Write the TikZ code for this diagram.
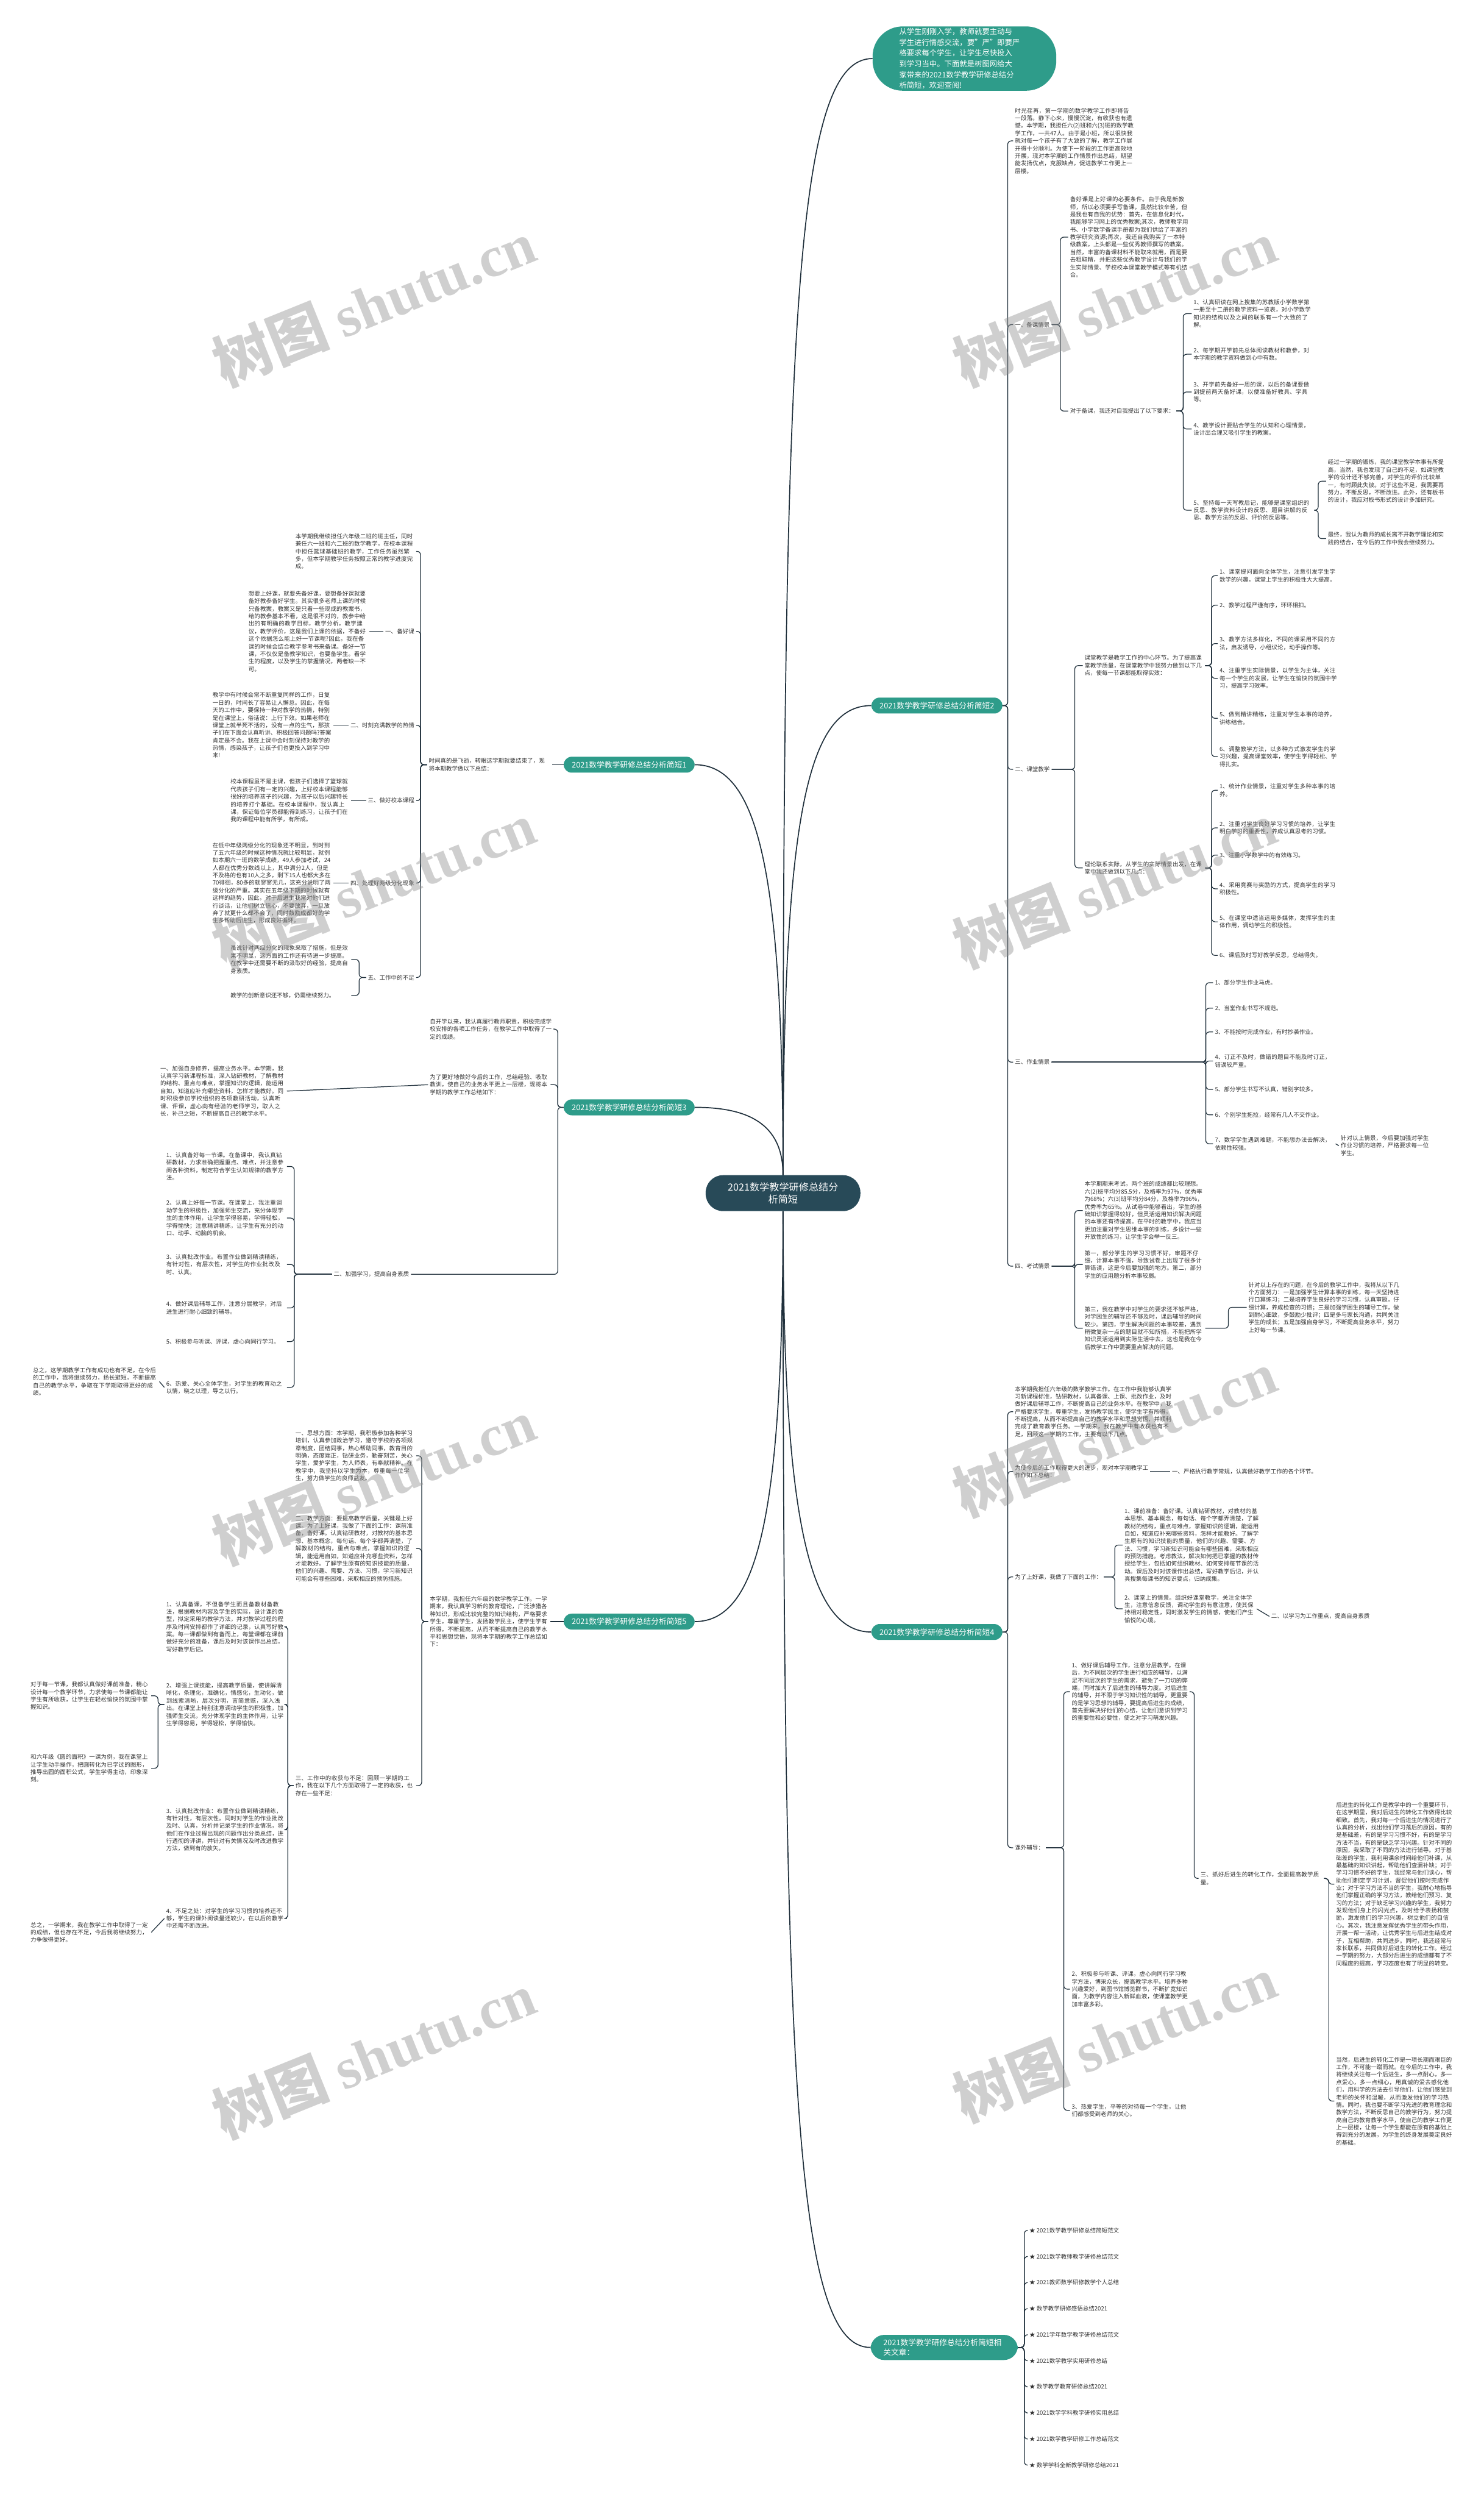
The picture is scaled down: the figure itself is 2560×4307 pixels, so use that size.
\documentclass[tikz,border=0pt]{standalone}
\usepackage{fontspec}
\setmainfont{Noto Sans CJK SC}
\newfontfamily\wmlatin{Liberation Serif}
\XeTeXlinebreaklocale "zh"
\XeTeXlinebreakskip=0pt plus 1pt
\definecolor{mapteal}{HTML}{2E9C8A}
\definecolor{mapdark}{HTML}{284A58}
\definecolor{mapline}{HTML}{1F2F3B}
\definecolor{maptext}{HTML}{333333}

\begin{document}
\begin{tikzpicture}[x=1pt, y=-1pt,
    txt/.style={font=\fontsize{10}{13}\selectfont, text=maptext, text width=205pt, align=left, inner sep=3pt},
    lbl/.style={font=\fontsize{10}{13}\selectfont, text=maptext, inner sep=3pt},
    topic/.style={fill=mapteal, text=white, rounded corners=14pt, font=\fontsize{13.4}{16}\selectfont, inner xsep=14pt, inner ysep=7.5pt},
    link/.style={draw=mapline, line width=1.3pt, rounded corners=6pt},
    trunk/.style={draw=mapline, line width=1.8pt},
    wmark/.style={text=black!45, opacity=0.42, font=\fontsize{100}{100}\selectfont\bfseries, rotate=22}]
\useasboundingbox (0,0) rectangle (2560,4307);

% centre and main topics
\node[fill=mapdark, text=white, rounded corners=30pt, minimum width=267pt, minimum height=62pt, align=center, font=\fontsize{17}{21}\selectfont] (root) at (1351,2058) {2021数学教学研修总结分\\析简短};
\node[fill=mapteal, text=white, rounded corners=52pt, text width=225pt, align=left, inner xsep=46pt, inner ysep=3pt, font=\fontsize{13}{18.5}\selectfont] (intro) at (1664,101) {从学生刚刚入学，教师就要主动与\\学生进行情感交流，要"严"即要严\\格要求每个学生，让学生尽快投入\\到学习当中。下面就是树图网给大\\家带来的2021数学教学研修总结分\\析简短，欢迎查阅!};
\node[topic] (t1) at (1085.5,1319) {2021数学教学研修总结分析简短1};
\node[topic] (t2) at (1616.5,1217) {2021数学教学研修总结分析简短2};
\node[topic] (t3) at (1085.5,1910) {2021数学教学研修总结分析简短3};
\node[topic] (t4) at (1616.5,2815) {2021数学教学研修总结分析简短4};
\node[topic] (t5) at (1085.5,2797) {2021数学教学研修总结分析简短5};
\node[topic, align=left, text width=210pt, inner xsep=22pt, rounded corners=24pt] (rel) at (1629,4049) {2021数学教学研修总结分析简短相\\关文章：};

\draw[trunk] (root.north) .. controls +(0,-1500) and +(-130,0) .. (intro.west);
\draw[trunk] (root.north) .. controls +(0,-620) and +(-110,0) .. (t2.west);
\draw[trunk] (root.north) .. controls +(0,-520) and +(110,0) .. (t1.east);
\draw[trunk] (root.north) .. controls +(0,-90) and +(90,0) .. (t3.east);
\draw[trunk] (root.south) .. controls +(0,520) and +(110,0) .. (t5.east);
\draw[trunk] (root.south) .. controls +(0,520) and +(-110,0) .. (t4.west);
\draw[trunk] (root.south) .. controls +(0,1500) and +(-130,0) .. (rel.west);

% topic 2
\node[txt, anchor=west] (a1) at (1748,243) {时光荏苒，第一学期的数学教学工作即将告一段落。静下心来，慢慢沉淀，有收获也有遗憾。本学期，我担任六(2)班和六(3)班的数学教学工作，一共47人。由于是小班，所以很快我就对每一个孩子有了大致的了解，教学工作展开得十分顺利。为使下一阶段的工作更高效地开展，现对本学期的工作情景作出总结，期望能发扬优点，克服缺点，促进教学工作更上一层楼。};
\node[lbl, anchor=west] (a2) at (1748,560) {一、备课情景};
\node[lbl, anchor=west] (a3) at (1748,1327) {二、课堂教学};
\node[lbl, anchor=west] (a4) at (1748,1832) {三、作业情景};
\node[lbl, anchor=west] (a5) at (1748,2184) {四、考试情景};
\foreach \c in {a1,a2,a3,a4,a5} \draw[link] (t2.east) -- ++(9,0) |- (\c.west);

\node[txt, anchor=west] (a21) at (1843,409) {备好课是上好课的必要条件。由于我是新教师，所以必须要手写备课，虽然比较辛苦，但是我也有自我的优势：首先，在信息化时代，我能够学习网上的优秀教案;其次，教师教学用书、小学数学备课手册都为我们供给了丰富的教学研究资源;再次，我还自我购买了一本特级教案，上头都是一些优秀教师撰写的教案。当然，丰富的备课材料不能取来就用，而是要去粗取精，并把这些优秀教学设计与我们的学生实际情景、学校校本课堂教学模式等有机结合。};
\node[lbl, anchor=west] (a22) at (1843,709) {对于备课，我还对自我提出了以下要求：};
\foreach \c in {a21,a22} \draw[link] (a2.east) -- ++(15,0) |- (\c.west);

\node[txt, anchor=west] (b1) at (2056,541) {1、认真研读在网上搜集的苏教版小学数学第一册至十二册的教学资料一览表，对小学数学知识的结构以及之间的联系有一个大致的了解。};
\node[txt, anchor=west] (b2) at (2056,611) {2、每学期开学前先总体阅读教材和教参，对本学期的教学资料做到心中有数。};
\node[txt, anchor=west] (b3) at (2056,676) {3、开学前先备好一周的课，以后的备课要做到提前两天备好课，以便准备好教具、学具等。};
\node[txt, anchor=west] (b4) at (2056,740) {4、教学设计要贴合学生的认知和心理情景，设计出合理又吸引学生的教案。};
\node[txt, anchor=west] (b5) at (2056,880) {5、坚持每一天写教后记，能够是课堂组织的反思、教学资料设计的反思、题目讲解的反思、教学方法的反思、评价的反思等。};
\foreach \c in {b1,b2,b3,b4,b5} \draw[link] (a22.east) -- ++(12,0) |- (\c.west);
\node[txt, anchor=west, text width=200pt] (b51) at (2288,830) {经过一学期的锻炼，我的课堂教学本事有所提高，当然，我也发现了自己的不足，如课堂教学的设计还不够完善，对学生的评价比较单一，有时顾此失彼。对于这些不足，我需要再努力，不断反思，不断改进。此外，还有板书的设计，我应对板书形式的设计多加研究。};
\node[txt, anchor=west, text width=200pt] (b52) at (2288,929) {最终，我认为教师的成长离不开教学理论和实践的结合，在今后的工作中我会继续努力。};
\foreach \c in {b51,b52} \draw[link] (b5.east) -- ++(7,0) |- (\c.west);

\node[txt, anchor=west] (a31) at (1868,1148) {课堂教学是教学工作的中心环节。为了提高课堂教学质量，在课堂教学中我努力做到以下几点，使每一节课都能取得实效：};
\node[txt, anchor=west] (a32) at (1868,1497) {理论联系实际，从学生的实际情景出发，在课堂中我还做到以下几点：};
\foreach \c in {a31,a32} \draw[link] (a3.east) -- ++(40,0) |- (\c.west);
\node[txt, anchor=west] (c1) at (2101,993) {1、课堂提问面向全体学生，注意引发学生学数学的兴趣，课堂上学生的积极性大大提高。};
\node[txt, anchor=west] (c2) at (2101,1044) {2、教学过程严谨有序，环环相扣。};
\node[txt, anchor=west] (c3) at (2101,1110) {3、教学方法多样化，不同的课采用不同的方法，启发诱导，小组议论，动手操作等。};
\node[txt, anchor=west] (c4) at (2101,1170) {4、注重学生实际情景，以学生为主体，关注每一个学生的发展，让学生在愉快的氛围中学习，提高学习效率。};
\node[txt, anchor=west] (c5) at (2101,1239) {5、做到精讲精练，注重对学生本事的培养，讲练结合。};
\node[txt, anchor=west] (c6) at (2101,1305) {6、调整教学方法，以多种方式激发学生的学习兴趣，提高课堂效率，使学生学得轻松、学得扎实。};
\foreach \c in {c1,c2,c3,c4,c5,c6} \draw[link] (a31.east) -- ++(11,0) |- (\c.west);
\node[txt, anchor=west] (d1) at (2101,1363) {1、统计作业情景，注重对学生多种本事的培养。};
\node[txt, anchor=west] (d2) at (2101,1428) {2、注重对学生良好学习习惯的培养，让学生明白学习的重要性，养成认真思考的习惯。};
\node[txt, anchor=west] (d3) at (2101,1475) {3、注重小学数学中的有效练习。};
\node[txt, anchor=west] (d4) at (2101,1533) {4、采用竞赛与奖励的方式，提高学生的学习积极性。};
\node[txt, anchor=west] (d5) at (2101,1590) {5、在课堂中适当运用多媒体，发挥学生的主体作用，调动学生的积极性。};
\node[txt, anchor=west] (d6) at (2101,1648) {6、课后及时写好教学反思，总结得失。};
\foreach \c in {d1,d2,d3,d4,d5,d6} \draw[link] (a32.east) -- ++(11,0) |- (\c.west);

\node[txt, anchor=west] (e1) at (2093,1695) {1、部分学生作业马虎。};
\node[txt, anchor=west] (e2) at (2093,1739) {2、当堂作业书写不规范。};
\node[txt, anchor=west] (e3) at (2093,1780) {3、不能按时完成作业，有时抄袭作业。};
\node[txt, anchor=west] (e4) at (2093,1830) {4、订正不及时，做错的题目不能及时订正，错误较严重。};
\node[txt, anchor=west] (e5) at (2093,1879) {5、部分学生书写不认真，错别字较多。};
\node[txt, anchor=west] (e6) at (2093,1923) {6、个别学生拖拉，经常有几人不交作业。};
\node[txt, anchor=west] (e7) at (2093,1973) {7、数学学生遇到难题，不能想办法去解决，依赖性较强。};
\foreach \c in {e1,e2,e3,e4,e5,e6,e7} \draw[link] (a4.east) -- ++(266,0) |- (\c.west);
\node[txt, anchor=west, text width=155pt] (e71) at (2310,1976) {针对以上情景，今后要加强对学生作业习惯的培养，严格要求每一位学生。};
\draw[link] (e7.east) -- (e71.west);

\node[txt, anchor=west] (f1) at (1868,2088) {本学期期末考试，两个班的成绩都比较理想。六(2)班平均分85.5分，及格率为97\%，优秀率为68\%；六(3)班平均分84分，及格率为96\%，优秀率为65\%。从试卷中能够看出，学生的基础知识掌握得较好，但灵活运用知识解决问题的本事还有待提高。在平时的教学中，我应当更加注重对学生思维本事的训练，多设计一些开放性的练习，让学生学会举一反三。};
\node[txt, anchor=west] (f2) at (1868,2181) {第一，部分学生的学习习惯不好，审题不仔细，计算本事不强，导致试卷上出现了很多计算错误，这是今后要加强的地方。第二，部分学生的应用题分析本事较弱。};
\node[txt, anchor=west] (f3) at (1868,2291) {第三，我在教学中对学生的要求还不够严格，对学困生的辅导还不够及时，课后辅导的时间较少。第四，学生解决问题的本事较差，遇到稍微复杂一点的题目就不知所措，不能把所学知识灵活运用到实际生活中去，这也是我在今后教学工作中需要重点解决的问题。};
\foreach \c in {f1,f2,f3} \draw[link] (a5.east) -- ++(40,0) |- (\c.west);
\node[txt, anchor=west, text width=260pt] (f31) at (2151,2255) {针对以上存在的问题，在今后的教学工作中，我将从以下几个方面努力：一是加强学生计算本事的训练，每一天坚持进行口算练习；二是培养学生良好的学习习惯，认真审题，仔细计算，养成检查的习惯；三是加强学困生的辅导工作，做到耐心细致，多鼓励少批评；四是多与家长沟通，共同关注学生的成长；五是加强自身学习，不断提高业务水平，努力上好每一节课。};
\draw[link] (f3.east) -- ++(40,0) |- (f31.west);

% topic 4
\node[txt, anchor=west, text width=270pt] (g1) at (1748,2435) {本学期我担任六年级的数学教学工作。在工作中我能够认真学习新课程标准，钻研教材，认真备课、上课、批改作业，及时做好课后辅导工作，不断提高自己的业务水平。在教学中，我严格要求学生，尊重学生，发扬教学民主，使学生学有所得，不断提高，从而不断提高自己的教学水平和思想觉悟，并顺利完成了教育教学任务。一学期来，我在教学中有收获也有不足，回顾这一学期的工作，主要有以下几点。};
\node[txt, anchor=west, text width=230pt] (g2) at (1748,2538) {为使今后的工作取得更大的进步，现对本学期教学工作作如下总结：};
\node[lbl, anchor=west] (g3) at (1748,2720) {为了上好课，我做了下面的工作：};
\node[lbl, anchor=west] (g4) at (1748,3187) {课外辅导：};
\foreach \c in {g1,g2,g3,g4} \draw[link] (t4.east) -- ++(9,0) |- (\c.west);
\node[lbl, anchor=west] (g21) at (2019,2538) {一、严格执行教学常规，认真做好教学工作的各个环节。};
\draw[link] (g2.east) -- (g21.west);
\node[txt, anchor=west, text width=233pt] (h1) at (1937,2665) {1、课前准备：备好课。认真钻研教材，对教材的基本思想、基本概念，每句话、每个字都弄清楚，了解教材的结构，重点与难点，掌握知识的逻辑，能运用自如，知道应补充哪些资料，怎样才能教好。了解学生原有的知识技能的质量，他们的兴趣、需要、方法、习惯，学习新知识可能会有哪些困难，采取相应的预防措施。考虑教法，解决如何把已掌握的教材传授给学生，包括如何组织教材、如何安排每节课的活动。课后及时对该课作出总结，写好教学后记，并认真搜集每课书的知识要点，归纳成集。};
\node[txt, anchor=west, text width=225pt] (h2) at (1937,2775) {2、课堂上的情景。组织好课堂教学，关注全体学生，注意信息反馈，调动学生的有意注意，使其保持相对稳定性，同时激发学生的情感，使他们产生愉悦的心境。};
\foreach \c in {h1,h2} \draw[link] (g3.east) -- ++(19,0) |- (\c.west);
\node[lbl, anchor=west] (h21) at (2190,2788) {二、以学习为工作重点，提高自身素质};
\draw[link] (h2.east) -- (h21.west);

\node[txt, anchor=west, text width=200pt] (k1) at (1846,2918) {1、做好课后辅导工作，注意分层教学。在课后，为不同层次的学生进行相应的辅导，以满足不同层次的学生的需求，避免了一刀切的弊端，同时加大了后进生的辅导力度。对后进生的辅导，并不限于学习知识性的辅导，更重要的是学习思想的辅导，要提高后进生的成绩，首先要解决好他们的心结，让他们意识到学习的重要性和必要性，使之对学习萌发兴趣。};
\node[txt, anchor=west, text width=200pt] (k2) at (1846,3431) {2、积极参与听课、评课，虚心向同行学习教学方法，博采众长，提高教学水平。培养多种兴趣爱好，到图书馆博览群书，不断扩宽知识面，为教学内容注入新鲜血液，使课堂教学更加丰富多彩。};
\node[txt, anchor=west, text width=200pt] (k3) at (1846,3640) {3、热爱学生，平等的对待每一个学生，让他们都感受到老师的关心。};
\foreach \c in {k1,k2,k3} \draw[link] (g4.east) -- ++(31,0) |- (\c.west);
\node[txt, anchor=west, text width=210pt] (k11) at (2068,3240) {三、抓好后进生的转化工作，全面提高教学质量。};
\draw[link] (k1.east) -- ++(8,0) |- (k11.west);
\node[txt, anchor=west, text width=200pt] (m1) at (2302,3250) {后进生的转化工作是教学中的一个重要环节，在这学期里，我对后进生的转化工作做得比较细致。首先，我对每一个后进生的情况进行了认真的分析，找出他们学习落后的原因，有的是基础差，有的是学习习惯不好，有的是学习方法不当，有的是缺乏学习兴趣。针对不同的原因，我采取了不同的方法进行辅导。对于基础差的学生，我利用课余时间给他们补课，从最基础的知识讲起，帮助他们查漏补缺；对于学习习惯不好的学生，我经常与他们谈心，帮助他们制定学习计划，督促他们按时完成作业；对于学习方法不当的学生，我耐心地指导他们掌握正确的学习方法，教给他们预习、复习的方法；对于缺乏学习兴趣的学生，我努力发现他们身上的闪光点，及时给予表扬和鼓励，激发他们的学习兴趣，树立他们的自信心。其次，我注意发挥优秀学生的带头作用，开展一帮一活动，让优秀学生与后进生结成对子，互相帮助，共同进步。同时，我还经常与家长联系，共同做好后进生的转化工作。经过一学期的努力，大部分后进生的成绩都有了不同程度的提高，学习态度也有了明显的转变。};
\node[txt, anchor=west, text width=200pt] (m2) at (2302,3624) {当然，后进生的转化工作是一项长期而艰巨的工作，不可能一蹴而就。在今后的工作中，我将继续关注每一个后进生，多一点耐心，多一点爱心，多一点细心，用真诚的爱去感化他们，用科学的方法去引导他们，让他们感受到老师的关怀和温暖，从而激发他们的学习热情。同时，我也要不断学习先进的教育理念和教学方法，不断反思自己的教学行为，努力提高自己的教育教学水平，使自己的教学工作更上一层楼，让每一个学生都能在原有的基础上得到充分的发展，为学生的终身发展奠定良好的基础。};
\foreach \c in {m1,m2} \draw[link] (k11.east) -- ++(8,0) |- (\c.west);

% related articles
\foreach \t [count=\i] in {2021数学教学研修总结简短范文, 2021数学教师教学研修总结范文, 2021教师数学研修教学个人总结, 数学教学研修感悟总结2021, 2021学年数学教学研修总结范文, 2021数学教学实用研修总结, 数学教学教育研修总结2021, 2021数学学科教学研修实用总结, 2021数学教学研修工作总结范文, 数学学科全新教学研修总结2021}
  \node[lbl, anchor=west] (r\i) at (1773,3802+45*\i) {★ \t};
\foreach \i in {1,...,10} \draw[link] (rel.east) -- ++(11,0) |- (r\i.west);

% topic 1
\node[txt, anchor=east, text width=210pt] (p0) at (953,1319) {时间真的是飞逝，转眼这学期就要结束了，现\\将本期教学做以下总结：};
\draw[link] (t1.west) -- (p0.east);
\node[txt, anchor=east] (p1) at (718,951) {本学期我继续担任六年级二班的班主任，同时兼任六一班和六二班的数学教学，在校本课程中担任篮球基础班的教学，工作任务虽然繁多，但本学期教学任务按照正常的教学进度完成。};
\node[lbl, anchor=east] (p2) at (718,1089) {一、备好课};
\node[lbl, anchor=east] (p3) at (718,1251) {二、时刻充满教学的热情};
\node[lbl, anchor=east] (p4) at (718,1381) {三、做好校本课程};
\node[lbl, anchor=east] (p5) at (718,1523) {四、处理好两级分化现象};
\node[lbl, anchor=east] (p6) at (718,1686) {五、工作中的不足};
\foreach \c in {p1,p2,p3,p4,p5,p6} \draw[link] (p0.west) -- ++(-11,0) |- (\c.east);
\node[txt, anchor=east] (p21) at (637,1089) {想要上好课，就要先备好课，要想备好课就要备好教参备好学生。其实很多老师上课的时候只备教案，教案又是只看一些现成的教案书，给的教参基本不看，这是很不对的，教参中给出的有明确的教学目标，教学分析，教学建议，教学评价，这是我们上课的依据，不备好这个依据怎么能上好一节课呢?因此，我在备课的时候会结合教学参考书来备课。备好一节课，不仅仅是备教学知识，也要备学生。看学生的程度，以及学生的掌握情况，两者缺一不可。};
\node[txt, anchor=east] (p31) at (575,1251) {教学中有时候会常不断重复同样的工作，日复一日的，时间长了容易让人懈怠。因此，在每天的工作中，要保持一种对教学的热情，特别是在课堂上，俗话说：上行下效。如果老师在课堂上就半死不活的，没有一点的生气，那孩子们在下面会认真听讲、积极回答问题吗?答案肯定是不会。我在上课中会时刻保持对教学的热情，感染孩子，让孩子们也更投入到学习中来!};
\node[txt, anchor=east] (p41) at (606,1381) {校本课程虽不是主课，但孩子们选择了篮球就代表孩子们有一定的兴趣，上好校本课程能够很好的培养孩子的兴趣，为孩子以后兴趣特长的培养打个基础。在校本课程中，我认真上课，保证每位学员都能得到练习，让孩子们在我的课程中能有所学，有所成。};
\node[txt, anchor=east] (p51) at (575,1523) {在低中年级两级分化的现象还不明显，到时到了五六年级的时候这种情况就比较明显，就例如本期六一班的数学成绩，49人参加考试，24人都在优秀分数线以上，其中满分2人，但是不及格的也有10人之多，剩下15人也都大多在70徘徊，80多的就寥寥无几，这充分说明了两级分化的严重。其实在五年级下期的时候就有这样的趋势，因此，对于后进生我常对他们进行谈话，让他们树立信心，不要放弃，一旦放弃了就更什么都不会了，同时鼓励成都好的学生多帮助后进生，形成良好循环。};
\draw[link] (p2.west) -- (p21.east);
\draw[link] (p3.west) -- (p31.east);
\draw[link] (p4.west) -- (p41.east);
\draw[link] (p5.west) -- (p51.east);
\node[txt, anchor=east] (p61) at (606,1655) {虽说针对两级分化的现象采取了措施，但是效果不明显，这方面的工作还有待进一步提高。在教学中还需要不断的汲取好的经验，提高自身素质。};
\node[txt, anchor=east] (p62) at (606,1717) {教学的创新意识还不够，仍需继续努力。};
\foreach \c in {p61,p62} \draw[link] (p6.west) -- ++(-12,0) |- (\c.east);

% topic 3
\node[txt, anchor=east, text width=210pt] (q1) at (955,1775) {自开学以来，我认真履行教师职责，积极完成学校安排的各项工作任务，在教学工作中取得了一定的成绩。};
\node[txt, anchor=east] (q2) at (950,1871) {为了更好地做好今后的工作，总结经验、吸取教训，使自己的业务水平更上一层楼，现将本学期的教学工作总结如下：};
\node[lbl, anchor=east] (q3) at (709,2198) {二、加强学习，提高自身素质};
\foreach \c in {q1,q2,q3} \draw[link] (t3.west) -- ++(-10,0) |- (\c.east);
\node[txt, anchor=east, text width=215pt] (q21) at (495,1882) {一、加强自身修养，提高业务水平。本学期，我认真学习新课程标准，深入钻研教材，了解教材的结构、重点与难点，掌握知识的逻辑，能运用自如，知道应补充哪些资料，怎样才能教好。同时积极参加学校组织的各项教研活动，认真听课、评课，虚心向有经验的老师学习，取人之长，补己之短，不断提高自己的教学水平。};
\draw[link] (q2.west) -- (q21.east);
\node[txt, anchor=east] (s1) at (495,2012) {1、认真备好每一节课。在备课中，我认真钻研教材，力求准确把握重点、难点，并注意参阅各种资料，制定符合学生认知规律的教学方法。};
\node[txt, anchor=east] (s2) at (495,2101) {2、认真上好每一节课。在课堂上，我注重调动学生的积极性，加强师生交流，充分体现学生的主体作用，让学生学得容易，学得轻松，学得愉快；注意精讲精练，让学生有充分的动口、动手、动脑的机会。};
\node[txt, anchor=east] (s3) at (495,2181) {3、认真批改作业。布置作业做到精读精练，有针对性，有层次性，对学生的作业批改及时、认真。};
\node[txt, anchor=east] (s4) at (495,2256) {4、做好课后辅导工作，注意分层教学，对后进生进行耐心细致的辅导。};
\node[txt, anchor=east] (s5) at (495,2314) {5、积极参与听课、评课，虚心向同行学习。};
\node[txt, anchor=east] (s6) at (495,2393) {6、热爱、关心全体学生，对学生的教育动之以情，晓之以理，导之以行。};
\foreach \c in {s1,s2,s3,s4,s5,s6} \draw[link] (q3.west) -- ++(-65,0) |- (\c.east);
\node[txt, anchor=east, text width=215pt] (s61) at (275,2383) {总之，这学期教学工作有成功也有不足，在今后的工作中，我将继续努力，扬长避短，不断提高自己的教学水平，争取在下学期取得更好的成绩。};
\draw[link] (s6.west) -- (s61.east);

% topic 5
\node[txt, anchor=east] (u0) at (950,2797) {本学期，我担任六年级的数学教学工作。一学期来，我认真学习新的教育理论，广泛涉猎各种知识，形成比较完整的知识结构，严格要求学生，尊重学生，发扬教学民主，使学生学有所得，不断提高，从而不断提高自己的教学水平和思想觉悟，现将本学期的教学工作总结如下：};
\draw[link] (t5.west) -- (u0.east);
\node[txt, anchor=east] (u1) at (718,2511) {一、思想方面：本学期，我积极参加各种学习培训，认真参加政治学习，遵守学校的各项规章制度，团结同事，热心帮助同事，教育目的明确，态度端正，钻研业务，勤奋刻苦，关心学生，爱护学生，为人师表，有奉献精神。在教学中，我坚持以学生为本，尊重每一位学生，努力做学生的良师益友。};
\node[txt, anchor=east] (u2) at (718,2671) {二、教学方面：要提高教学质量，关键是上好课。为了上好课，我做了下面的工作：课前准备，备好课。认真钻研教材，对教材的基本思想、基本概念，每句话、每个字都弄清楚，了解教材的结构，重点与难点，掌握知识的逻辑，能运用自如，知道应补充哪些资料，怎样才能教好。了解学生原有的知识技能的质量，他们的兴趣、需要、方法、习惯，学习新知识可能会有哪些困难，采取相应的预防措施。};
\node[txt, anchor=east] (u3) at (718,3080) {三、工作中的收获与不足：回顾一学期的工作，我在以下几个方面取得了一定的收获，也存在一些不足：};
\foreach \c in {u1,u2,u3} \draw[link] (u0.west) -- ++(-11,0) |- (\c.east);
\node[txt, anchor=east] (v1) at (495,2806) {1、认真备课，不但备学生而且备教材备教法，根据教材内容及学生的实际，设计课的类型，拟定采用的教学方法，并对教学过程的程序及时间安排都作了详细的记录，认真写好教案。每一课都做到有备而上，每堂课都在课前做好充分的准备，课后及时对该课作出总结，写好教学后记。};
\node[txt, anchor=east] (v2) at (495,2940) {2、增强上课技能，提高教学质量，使讲解清晰化，条理化，准确化，情感化，生动化，做到线索清晰，层次分明，言简意赅，深入浅出。在课堂上特别注意调动学生的积极性，加强师生交流，充分体现学生的主体作用，让学生学得容易，学得轻松，学得愉快。};
\node[txt, anchor=east] (v3) at (495,3156) {3、认真批改作业：布置作业做到精读精练，有针对性，有层次性。同时对学生的作业批改及时、认真，分析并记录学生的作业情况，将他们在作业过程出现的问题作出分类总结，进行透彻的评讲，并针对有关情况及时改进教学方法，做到有的放矢。};
\node[txt, anchor=east] (v4) at (495,3309) {4、不足之处：对学生的学习习惯的培养还不够，学生的课外阅读量还较少，在以后的教学中还需不断改进。};
\foreach \c in {v1,v2,v3,v4} \draw[link] (u3.west) -- ++(-10,0) |- (\c.east);
\node[txt, anchor=east] (v21) at (261,2925) {对于每一节课，我都认真做好课前准备，精心设计每一个教学环节，力求使每一节课都能让学生有所收获，让学生在轻松愉快的氛围中掌握知识。};
\node[txt, anchor=east] (v22) at (261,3050) {和六年级《圆的面积》一课为例，我在课堂上让学生动手操作，把圆转化为已学过的图形，推导出圆的面积公式，学生学得主动，印象深刻。};
\foreach \c in {v21,v22} \draw[link] (v2.west) -- ++(-11,0) |- (\c.east);
\node[txt, anchor=east] (v41) at (261,3333) {总之，一学期来，我在教学工作中取得了一定的成绩，但也存在不足，今后我将继续努力，力争做得更好。};
\draw[link] (v4.west) -- (v41.east);

% watermarks
\foreach \p in {(645,522),(1923,522),(645,1525),(1923,1525),(645,2555),(1923,2472),(645,3544),(1923,3516)}
  \node[wmark] at \p {树图 {\wmlatin shutu.cn}};
\end{tikzpicture}
\end{document}
